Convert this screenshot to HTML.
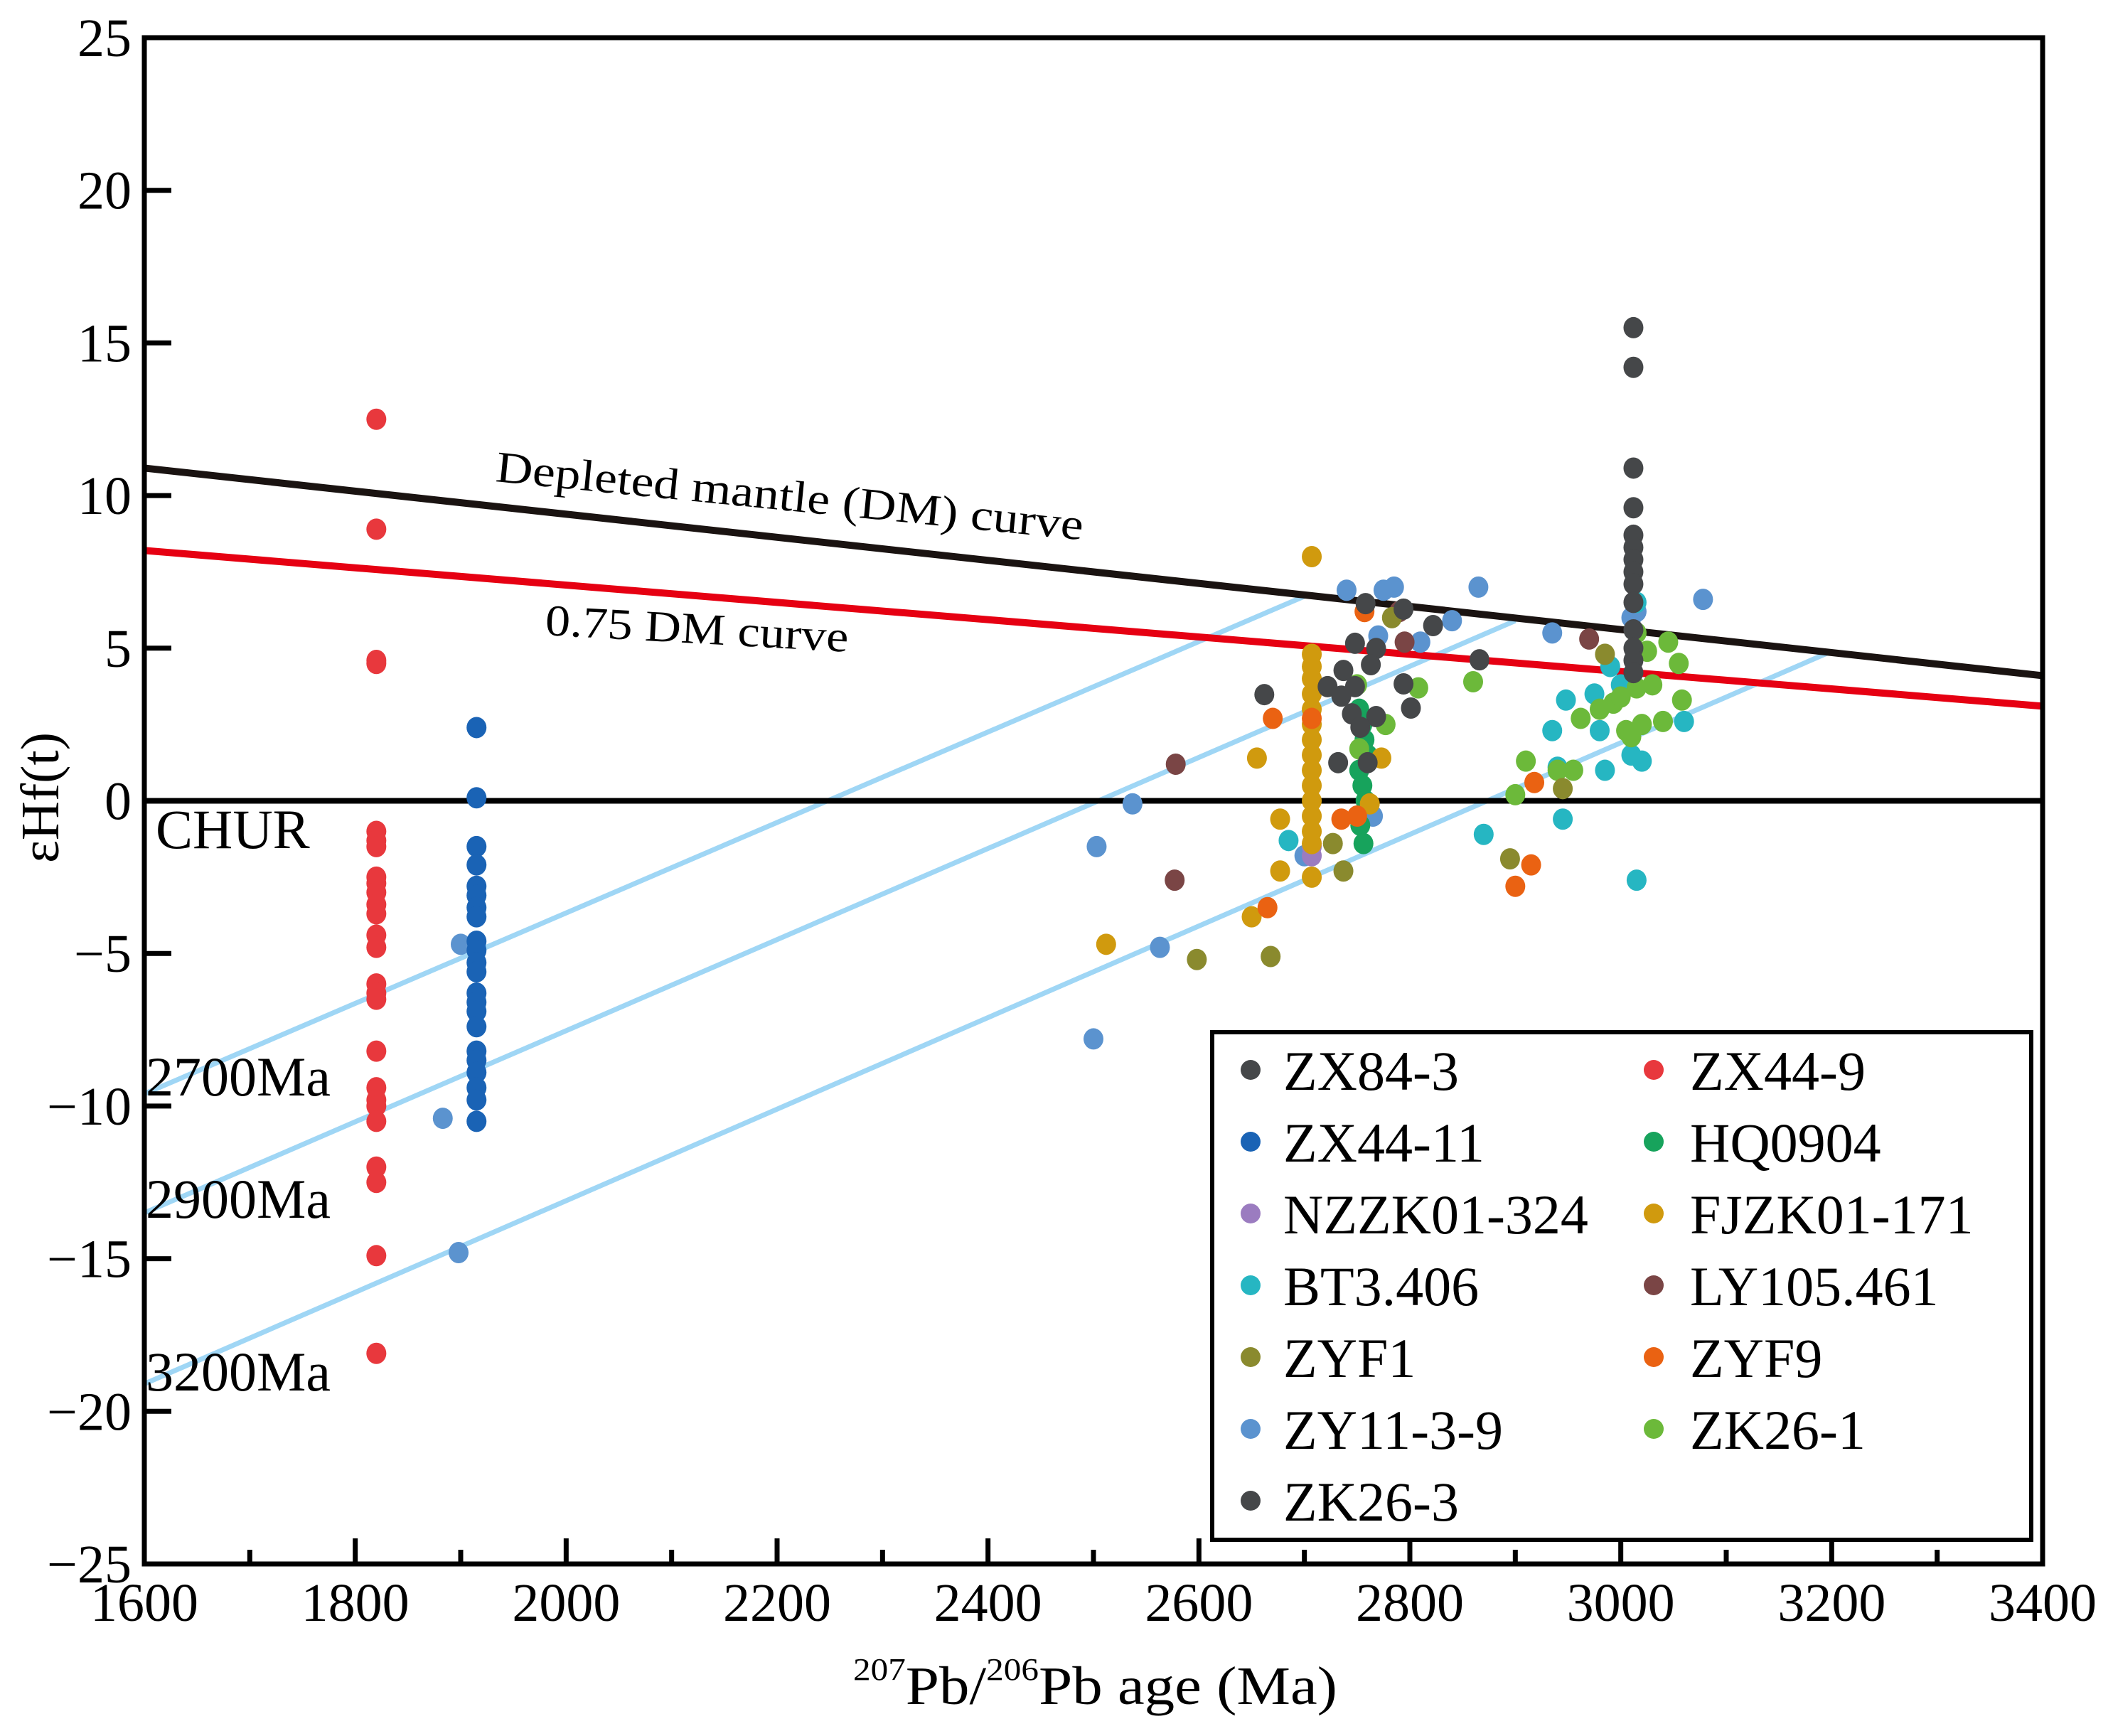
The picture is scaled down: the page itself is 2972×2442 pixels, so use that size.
<!DOCTYPE html>
<html><head><meta charset="utf-8"><style>
html,body{margin:0;padding:0;background:#fff}
svg{display:block;font-family:"Liberation Serif",serif}
</style></head><body>
<svg id="chart" width="2972" height="2442" viewBox="0 0 2972 2442" xmlns="http://www.w3.org/2000/svg">
<g id="grid"></g>
<g id="lines"></g>
<g id="marks"></g>
<g id="axes"></g>
<g id="labels"></g>
<g id="legend"></g>
</svg>
<script>
const xTicks=[1600,1800,2000,2200,2400,2600,2800,3000,3200,3400];
const xMinor=[1700,1900,2100,2300,2500,2700,2900,3100,3300];
const yTicks=[25,20,15,10,5,0,-5,-10,-15,-20,-25];
const seriesNames=["ZX84-3","ZX44-9","ZX44-11","HQ0904","NZZK01-324","FJZK01-171","BT3.406","LY105.461","ZYF1","ZYF9","ZY11-3-9","ZK26-1","ZK26-3"];
const seriesColors=["#454749","#e8383d","#1a63b5","#17a35c","#9b7cc0","#d09a0e","#26b6c2","#7a4545","#8a8a2e","#ea6212","#5b93cf","#6cb93a","#454749"];
const zx843Age=[3012,3012,3012,3012,3012,3012,3012,3012,3012,3012,3012,3012,3012,3012];
const zx843Val=[15.5,14.2,10.9,9.6,8.7,8.3,7.9,7.5,7.1,6.5,5.6,5.0,4.6,4.2];
const zx449Age=Array(26).fill(1820);
const zx449Val=[12.5,8.9,4.6,4.5,-1.0,-1.3,-1.5,-2.5,-2.7,-3.0,-3.4,-3.7,-4.4,-4.8,-6.0,-6.3,-6.5,-8.2,-9.4,-9.8,-10.0,-10.5,-12.0,-12.5,-14.9,-18.1];
const zx4411Age=Array(22).fill(1915);
const zx4411Val=[2.4,0.1,-1.5,-2.1,-2.8,-3.1,-3.5,-3.8,-4.6,-4.9,-5.3,-5.6,-6.3,-6.6,-6.9,-7.4,-8.2,-8.5,-8.9,-9.4,-9.8,-10.5];
const hqAge=[2752,2755,2757,2760,2752,2755,2758,2753,2756];
const hqVal=[3.0,2.5,2.0,1.5,1.0,0.5,0,-0.8,-1.4];
const nzAge=[2707,2707];
const nzVal=[-1.8,-1.5];
const fjAge=[2707,2707,2707,2707,2707,2707,2707,2707,2707,2707,2707,2707,2707,2707,2707,2707,2655,2677,2677,2650,2512,2773,2762];
const fjVal=[8.0,4.8,4.4,4.0,3.5,3.0,2.5,2.0,1.5,1.0,0.5,0,-0.5,-1.0,-1.4,-2.5,1.4,-0.6,-2.3,-3.8,-4.7,1.4,-0.1];
const btAge=[2685,2870,2935,2948,2945,2975,2980,2985,2990,3000,3010,3015,3020,3060,3015,2940];
const btVal=[-1.3,-1.1,2.3,3.3,-0.6,3.5,2.3,1.0,4.4,3.8,1.5,-2.6,1.3,2.6,6.5,1.1];
const lyAge=[2578,2577,2795,2970,2790];
const lyVal=[1.2,-2.6,5.2,5.3,6.2];
const zyf1Age=[2598,2668,2727,2737,2895,2945,2985,2783];
const zyf1Val=[-5.2,-5.1,-1.4,-2.3,-1.9,0.4,4.8,6.0];
const zyf9Age=[2670,2665,2707,2735,2750,2900,2915,2918,2757];
const zyf9Val=[2.7,-3.5,2.7,-0.6,-0.5,-2.8,-2.1,0.6,6.2];
const zy11Age=[1900,1883,1898,2503,2537,2563,2500,2740,2775,2785,2865,2770,2810,2840,2935,3010,3015,3078,2765,2700];
const zy11Val=[-4.7,-10.4,-14.8,-1.5,-0.1,-4.8,-7.8,6.9,6.9,7.0,7.0,5.4,5.2,5.9,5.5,6.0,6.2,6.6,-0.5,-1.8];
const zk261Age=[2808,2860,2900,2910,2940,2955,2962,2980,2993,3000,3005,3010,3015,3020,3025,3030,3040,3045,3055,3058,3015,2752,2750,2777];
const zk261Val=[3.7,3.9,0.2,1.3,1.0,1.0,2.7,3.0,3.2,3.4,2.3,2.1,5.5,2.5,4.9,3.8,2.6,5.2,4.5,3.3,3.7,1.7,3.8,2.5];
const zk263Age=[2758,2794,2822,2748,2768,2737,2763,2722,2748,2735,2794,2801,2662,2745,2768,2753,2866,2732,2760];
const zk263Val=[6.46,6.28,5.74,5.16,4.99,4.27,4.46,3.74,3.74,3.43,3.83,3.04,3.48,2.85,2.76,2.41,4.62,1.25,1.25];
const drawOrder=[[10,zy11Age,zy11Val],[2,zx4411Age,zx4411Val],[1,zx449Age,zx449Val],[3,hqAge,hqVal],[4,nzAge,nzVal],[5,fjAge,fjVal],[6,btAge,btVal],[11,zk261Age,zk261Val],[7,lyAge,lyVal],[8,zyf1Age,zyf1Val],[9,zyf9Age,zyf9Val],[12,zk263Age,zk263Val],[0,zx843Age,zx843Val]];
const dmLine=[[1600,10.9],[3400,4.1]];
const dm75Line=[[1600,8.2],[3400,3.1]];
const modelAges=["2700Ma","2900Ma","3200Ma"];
const modelLines=[[[1600,-9.6],[2700,6.7]],[[1600,-13.5],[2900,5.9]],[[1600,-19.1],[3200,4.9]]];

const NS="http://www.w3.org/2000/svg";
const X0=203,X1=2873,Y0=53,Y1=2200;
const sx=v=>X0+(v-1600)/(3400-1600)*(X1-X0);
const sy=v=>Y0+(25-v)/50*(Y1-Y0);
function mk(parent,tag,attrs,text){const e=document.createElementNS(NS,tag);for(const k in attrs)e.setAttribute(k,attrs[k]);if(text!==undefined)e.textContent=text;document.getElementById(parent).appendChild(e);return e;}

let e;
modelLines.forEach((l,i)=>{
 e=mk('lines','line',{x1:sx(l[0][0]),y1:sy(l[0][1]),x2:sx(l[1][0]),y2:sy(l[1][1]),stroke:'#9fd6f5','stroke-width':7});
 
 
});
e=mk('lines','line',{x1:X0,y1:sy(0),x2:X1,y2:sy(0),stroke:'#000','stroke-width':8});


e=mk('lines','line',{x1:sx(dm75Line[0][0]),y1:sy(dm75Line[0][1]),x2:sx(dm75Line[1][0]),y2:sy(dm75Line[1][1]),stroke:'#e60012','stroke-width':10});


e=mk('lines','line',{x1:sx(dmLine[0][0]),y1:sy(dmLine[0][1]),x2:sx(dmLine[1][0]),y2:sy(dmLine[1][1]),stroke:'#1a1311','stroke-width':10});



drawOrder.forEach(([si,ages,vals])=>{
 ages.forEach((a,i)=>{
  const c=mk('marks','ellipse',{cx:sx(a),cy:sy(vals[i]),rx:14,ry:15,fill:seriesColors[si]});
  
  
 });
});

e=mk('axes','rect',{x:X0,y:Y0,width:X1-X0,height:Y1-Y0,fill:'none',stroke:'#000','stroke-width':7});


xTicks.forEach(t=>{
 e=mk('axes','line',{x1:sx(t),y1:Y1,x2:sx(t),y2:Y1-36,stroke:'#000','stroke-width':7});
 
 
 e=mk('axes','text',{x:sx(t),y:2280,'font-size':76,'text-anchor':'middle'},String(t));
 
 
});
xMinor.forEach(t=>{
 e=mk('axes','line',{x1:sx(t),y1:Y1,x2:sx(t),y2:Y1-20,stroke:'#000','stroke-width':7});
 
 
});
yTicks.forEach(t=>{
 e=mk('axes','line',{x1:X0,y1:sy(t),x2:X0+38,y2:sy(t),stroke:'#000','stroke-width':7});
 
 
 e=mk('axes','text',{x:185,y:sy(t)+26,'font-size':76,'text-anchor':'end'},t<0?'\u2212'+(-t):String(t));
 
 
});
</script>
<script>
(function(){
 const g=document.getElementById('labels');
 g.innerHTML=`
 <text x="0" y="0" font-size="76" text-anchor="middle" transform="translate(82,1122) rotate(-90)">εHf(t)</text>
 <text x="1200" y="2397" font-size="76" textLength="681" lengthAdjust="spacingAndGlyphs"><tspan font-size="44" dy="-34">207</tspan><tspan dy="34">Pb/</tspan><tspan font-size="44" dy="-34">206</tspan><tspan dy="34">Pb  age (Ma)</tspan></text>
 <text x="0" y="0" font-size="62" textLength="830" lengthAdjust="spacingAndGlyphs" transform="translate(696,677) rotate(5.7)">Depleted mantle (DM) curve</text>
 <text x="0" y="0" font-size="62" textLength="427" lengthAdjust="spacingAndGlyphs" transform="translate(766,893) rotate(3.2)">0.75 DM curve</text>
 <text x="219" y="1193" font-size="78">CHUR</text>
 <text x="205" y="1541" font-size="78">2700Ma</text>
 <text x="205" y="1713" font-size="78">2900Ma</text>
 <text x="205" y="1956" font-size="78">3200Ma</text>`;
 const lg=document.getElementById('legend');
 let html=`<rect x="1705" y="1452" width="1152" height="714" fill="#fff" stroke="#000" stroke-width="6"/>`;
 const names=["ZX84-3","ZX44-9","ZX44-11","HQ0904","NZZK01-324","FJZK01-171","BT3.406","LY105.461","ZYF1","ZYF9","ZY11-3-9","ZK26-1","ZK26-3"];
 const cols=["#454749","#e8383d","#1a63b5","#17a35c","#9b7cc0","#d09a0e","#26b6c2","#7a4545","#8a8a2e","#ea6212","#5b93cf","#6cb93a","#454749"];
 names.forEach((n,i)=>{
  const r=Math.floor(i/2),c=i%2;
  const mx=c?2326:1759, tx=c?2377:1805, y=1505+r*101;
  html+=`<g><circle cx="${mx}" cy="${y}" r="14" fill="${cols[i]}"/><text x="${tx}" y="${y+28}" font-size="78">${n}</text></g>`;
 });
 lg.innerHTML=html;
})();
</script>
</body></html>
